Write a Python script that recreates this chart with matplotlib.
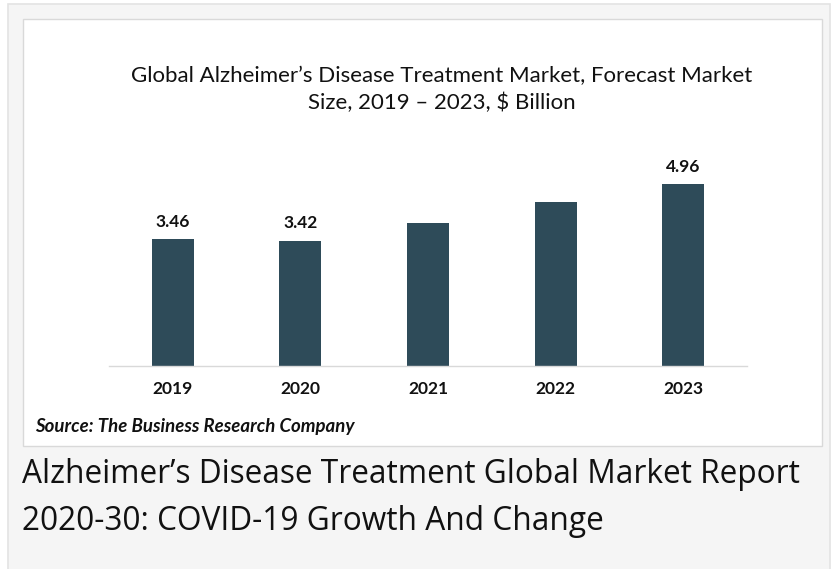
import matplotlib
matplotlib.use("Agg")
import matplotlib.pyplot as plt
from matplotlib.patches import Rectangle

years = ["2019", "2020", "2021", "2022", "2023"]
values = [3.46, 3.42, 3.90, 4.48, 4.96]
labels = ["3.46", "3.42", "", "", "4.96"]

title = "Global Alzheimer\u2019s Disease Treatment Market, Forecast Market\nSize, 2019 \u2013 2023, $ Billion"
source = "Source: The Business Research Company"
caption_lines = ["Alzheimer\u2019s Disease Treatment Global Market Report",
                 "2020-30: COVID-19 Growth And Change"]

W, H = 836, 569
fig = plt.figure(figsize=(W / 100, H / 100), dpi=100)
fig.patch.set_facecolor("white")

def fx(px):
    return px / W

def fy(py):
    return 1 - py / H

# outer card
fig.patches.append(Rectangle((fx(7.5), fy(575)), fx(830 - 7.5), (575 - 3.5) / H,
                             transform=fig.transFigure, facecolor="#f5f5f5",
                             edgecolor="#e3e3e3", linewidth=1.2, zorder=-2))
# inner white chart box
fig.patches.append(Rectangle((fx(22.5), fy(445.5)), fx(822 - 22.5), (445.5 - 18.5) / H,
                             transform=fig.transFigure, facecolor="white",
                             edgecolor="#d9d9d9", linewidth=1.0, zorder=-1))

ax = fig.add_axes([fx(109), fy(366), fx(747 - 109), 6 * 36.63 / H])
ax.set_zorder(2)
ax.set_facecolor("none")
bar_color = "#2e4b59"
x = list(range(len(years)))
bars = ax.bar(x, values, width=0.33, color=bar_color, zorder=2)
ax.set_xlim(-0.5, 4.5)
ax.set_ylim(0, 6)
for s in ["top", "right", "left"]:
    ax.spines[s].set_visible(False)
ax.spines["bottom"].set_color("#d9d9d9")
ax.spines["bottom"].set_linewidth(1.0)
ax.set_yticks([])
ax.set_xticks(x)
ax.set_xticklabels(years, fontfamily="Lato", fontweight="bold", fontsize=12.5, color="#111111")
ax.tick_params(axis="x", length=0, pad=11)

for xi, v, lab in zip(x, values, labels):
    if lab:
        ax.annotate(lab, (xi, v), xytext=(0, 7), textcoords="offset points",
                    ha="center", va="bottom", fontfamily="Lato", fontweight="bold",
                    fontsize=12.5, color="#111111")

fig.text(fx(442), fy(89.5), title, ha="center", va="center", fontfamily="Lato",
         fontsize=16, color="#111111", linespacing=1.42)

fig.text(fx(35), fy(432), source, ha="left", va="baseline", fontfamily="Lato",
         fontweight="bold", fontstyle="italic", fontsize=13.4, color="#111111")

fig.text(fx(22), fy(483), caption_lines[0], ha="left", va="baseline",
         fontfamily="Open Sans", fontsize=22.8, color="#111111")
fig.text(fx(22), fy(529.5), caption_lines[1], ha="left", va="baseline",
         fontfamily="Open Sans", fontsize=22.8, color="#111111")

fig.savefig("out.png", dpi=100, facecolor=fig.get_facecolor())
